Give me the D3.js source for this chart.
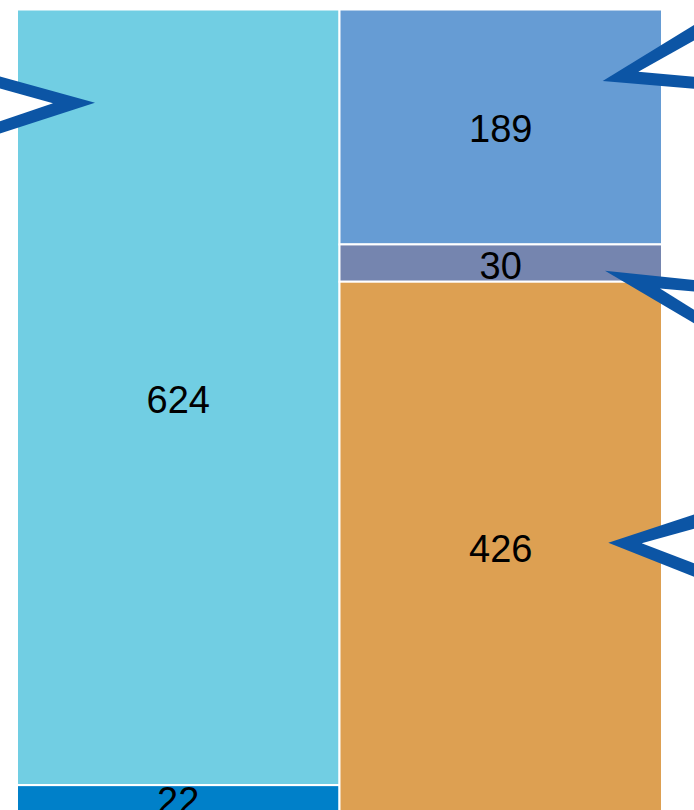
<!DOCTYPE html>
<html>
<head>
<meta charset="utf-8">
<script src="https://cdn.jsdelivr.net/npm/d3@7/dist/d3.min.js"></script>
<style>
  html, body { margin: 0; padding: 0; background: #ffffff; overflow: hidden; }
  svg { display: block; }
</style>
</head>
<body>
<script>
// Two stacked columns, segments listed from the top of each column downward.
const columns = ["A", "B"];
const leftValues = [624, 22];
const rightValues = [189, 30, 426];
const leftColors = ["#71CEE3", "#0080C9"];
const rightColors = ["#669CD4", "#7585AF", "#DDA052"];

const W = 694, H = 810;
const svg = d3.select("body").append("svg").attr("width", W).attr("height", H);

const x = d3.scaleBand().domain(columns).range([17, 662]).paddingInner(0);
// Stack depth measured from the column top.
const y = d3.scaleLinear().domain([0, 650]).range([9.5, 9.5 + 650 * 1.243]);

function stackFromTop(values, colors, col) {
  let acc = 0;
  return values.map((v, i) => {
    const d = { col, value: v, start: acc, end: acc + v, color: colors[i] };
    acc += v;
    return d;
  });
}

const segments = [
  ...stackFromTop(leftValues, leftColors, "A"),
  ...stackFromTop(rightValues, rightColors, "B")
];

svg.append("g").selectAll("rect")
  .data(segments)
  .join("rect")
  .attr("x", d => x(d.col))
  .attr("width", x.bandwidth())
  .attr("y", d => y(d.start))
  .attr("height", d => y(d.end) - y(d.start))
  .attr("fill", d => d.color)
  .attr("stroke", "#ffffff")
  .attr("stroke-width", 2);

const fontSize = 38;
svg.append("g").selectAll("text")
  .data(segments)
  .join("text")
  .attr("x", d => x(d.col) + x.bandwidth() / 2)
  .attr("y", d => (y(d.start) + y(d.end)) / 2 + 15.5)
  .attr("text-anchor", "middle")
  .attr("font-family", "'Liberation Sans', Arial, sans-serif")
  .attr("font-size", fontSize)
  .attr("fill", "#000000")
  .text(d => d.value);

// Callout pointers (outer outline and white interior), boxes sit beyond the frame.
const callouts = [
  { outer: [[-20, 71], [95, 102.7], [-20, 140]], inner: [[-20, 83], [53, 103.3], [-20, 128]] },
  { outer: [[720, 9], [602.7, 81], [720, 91]], inner: [[720, 26], [638.3, 71.7], [720, 79]] },
  { outer: [[720, 282.7], [605, 270.7], [720, 338.6]], inner: [[720, 294], [660, 288.5], [720, 326]] },
  { outer: [[720, 506], [608.3, 542.7], [720, 587]], inner: [[720, 521.5], [641.7, 543.3], [720, 573]] }
];

const line = d3.line().curve(d3.curveLinearClosed);
const cg = svg.append("g");
callouts.forEach(c => {
  cg.append("path").attr("d", line(c.outer)).attr("fill", "#0C55A5");
  cg.append("path").attr("d", line(c.inner)).attr("fill", "#ffffff");
});
</script>
</body>
</html>
